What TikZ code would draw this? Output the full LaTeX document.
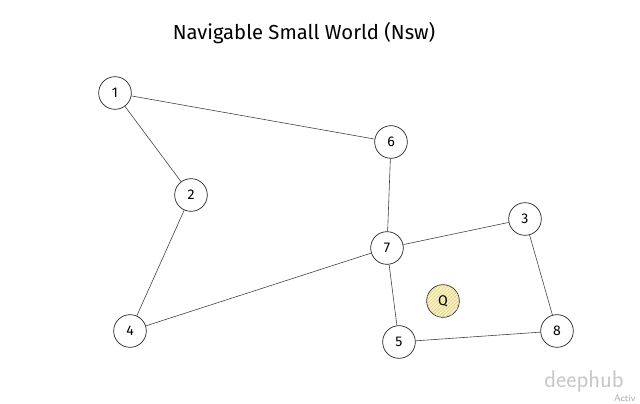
\documentclass[tikz,border=0pt]{standalone}
\usepackage{fontspec}
\setmainfont{Fira Sans}
\usetikzlibrary{patterns}

\begin{document}
\begin{tikzpicture}[x=0.03cm,y=-0.03cm,every node/.style={font=\normalsize},
  vtx/.style={draw=black!85,circle,line width=0.6pt,minimum size=0.98cm,inner sep=0pt,fill=white,font=\large},
  edge/.style={draw=black!75,line width=0.5pt}]
\useasboundingbox (0,0) rectangle (640,404);
\node[font=\LARGE] (title) at (304,33) {Navigable Small World (Nsw)};
\node[vtx] (n1) at (115,93) {1}; \node[vtx] (n6) at (391,142) {6};
\node[vtx] (n2) at (191,195) {2}; \node[vtx] (n7) at (387,248) {7};
\node[vtx] (n3) at (525,219) {3}; \node[vtx] (n4) at (130,331) {4};
\node[vtx] (n5) at (399,342) {5}; \node[vtx] (n8) at (557,331) {8};
\node[vtx,fill={rgb,255:red,250;green,242;blue,196},postaction={pattern=north east lines,pattern color={rgb,255:red,215;green,200;blue,120}}] (q) at (443,301) {Q};
\draw[edge] (n1)--(n6); \draw[edge] (n1)--(n2); \draw[edge] (n2)--(n4);
\draw[edge] (n6)--(n7); \draw[edge] (n7)--(n3); \draw[edge] (n7)--(n4);
\draw[edge] (n7)--(n5); \draw[edge] (n5)--(n8); \draw[edge] (n3)--(n8);
% watermark
\node[black!22,font=\huge\sffamily] (wm) at (584,381) {deephub};
\node[black!35,font=\footnotesize\sffamily,anchor=west] (act) at (610,398) {Activ};
\end{tikzpicture}
\end{document}
